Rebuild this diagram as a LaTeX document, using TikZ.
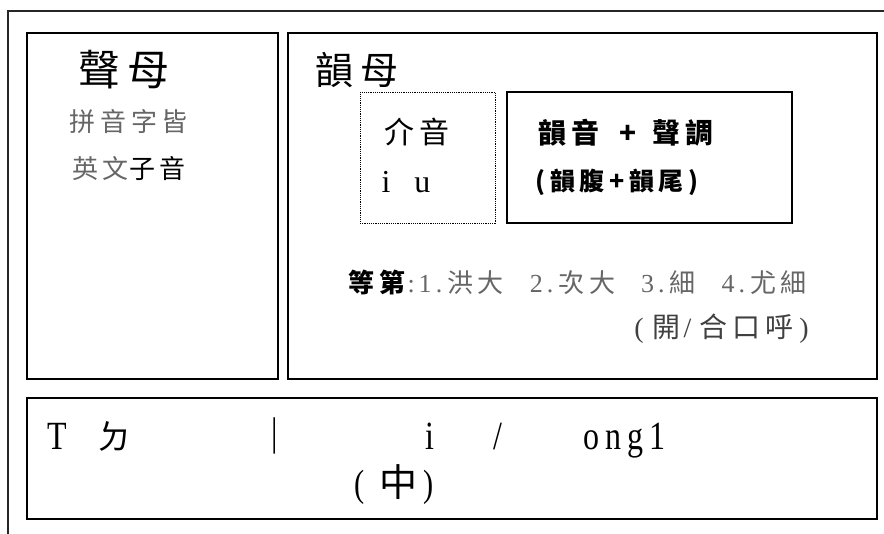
\documentclass[tikz,border=0pt]{standalone}
\usepackage{fontspec}
\setmainfont{Liberation Serif}
\newfontfamily\cjk[LetterSpace=18]{Noto Sans CJK TC}
\newfontfamily\wideserif[LetterSpace=18]{Liberation Serif}
\newfontfamily\narrowserif[FakeStretch=0.8,LetterSpace=15]{Liberation Serif}
\newcommand{\grade}[1]{{\rmfamily #1\hspace{4pt}.\hspace{5pt}}}
\usetikzlibrary{positioning}

\begin{document}
\begin{tikzpicture}[
    x=1pt, y=-1pt,
    panel/.style={rectangle, draw, line width=1.2pt, inner sep=0pt},
    title/.style={font=\cjk\fontsize{40}{40}\selectfont, inner sep=0pt},
    note/.style={font=\cjk\fontsize{26}{26}\selectfont, inner sep=0pt, text=black!60},
    label/.style={font=\cjk\fontsize{29}{29}\selectfont, inner sep=0pt},
    spell/.style={font=\narrowserif\fontsize{40}{40}\selectfont, inner sep=0pt}
]
\useasboundingbox (0,0) rectangle (884,534);

% Outer frame
\draw[line width=1.2pt, black!85] (884,11) -- (8,11) -- (8,534);

% Panels
\node[panel, minimum width=251pt, minimum height=346pt] (shengmu) at (152.5,206) {};
\node[panel, minimum width=589pt, minimum height=346pt] (yunmu) at (582.5,206) {};
\node[panel, densely dotted, line width=0.9pt, minimum width=135pt, minimum height=131pt] (jieyin) at (427.5,157.5) {};
\node[panel, minimum width=285pt, minimum height=131pt] (yunyin) at (649.5,157.5) {};
\node[panel, minimum width=850pt, minimum height=121pt] (example) at (452,458.5) {};

% Initials
\node[title, font=\cjk\fontsize{42}{42}\selectfont] (shengmutitle) at (124,70) {聲母};
\node[note] (pinyin) at (129,122) {拼音字皆};
\node[note] (english) at (129,169) {英文{\color{black}子音}};

% Finals
\node[title, font=\cjk\fontsize{38}{38}\selectfont] (yunmutitle) at (357,70) {韻母};
\node[label, font=\cjk\fontsize{30}{30}\selectfont] (jieyintext) at (417,132) {介音};
\node[label, font=\rmfamily\fontsize{32}{32}\selectfont] (iu) at (406,182) {i\hspace{24pt}u};
\node[label, font=\cjk\bfseries\fontsize{28}{28}\selectfont] (yunyintext) at (626,133) {韻音\hspace{20pt}+\hspace{16pt}聲調};
\node[label, font=\cjk\bfseries\fontsize{25}{25}\selectfont] (yunfu) at (617,182) {(韻腹+韻尾)};

% Grades
\node[note, anchor=east] (dengdi) at (807,282)
    {{\color{black}\bfseries 等第}{\rmfamily\hspace{2pt}:\hspace{4pt}}\grade{1}洪大\hspace{26pt}\grade{2}次大\hspace{26pt}\grade{3}細\hspace{26pt}\grade{4}尤細};
\node[note, anchor=east, text=black!75, font=\cjk\fontsize{28}{28}\selectfont] (kaihe) at (809,329)
    {{\rmfamily (\hspace{9pt}}開{\rmfamily\hspace{3pt}/\hspace{8pt}}合口呼{\rmfamily\hspace{6pt})}};

% Example
\node[spell, anchor=base west] (initT) at (47,450) {T};
\node[spell, anchor=base west, font=\cjk\fontsize{34}{34}\selectfont] (initD) at (97,450) {ㄉ};
\node[spell] (bar) at (275,436) {|};
\node[spell, anchor=base west] (medial) at (425,450) {i};
\node[spell, anchor=base west] (slash) at (493,450) {/};
\node[spell, anchor=base west] (rime) at (583,450) {ong1};
\node[spell, font=\cjk\fontsize{38}{38}\selectfont] (zhong) at (394,485)
    {{\narrowserif (}\hspace{14pt}中\hspace{6pt}{\narrowserif )}};

\end{tikzpicture}
\end{document}
